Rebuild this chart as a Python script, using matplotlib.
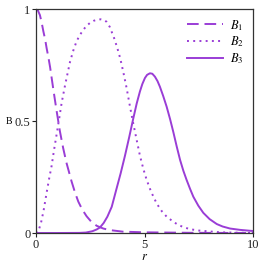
import matplotlib
matplotlib.use("Agg")
import matplotlib.pyplot as plt

plt.rcParams['font.family'] = ['Liberation Serif', 'DejaVu Serif']
plt.rcParams['mathtext.fontset'] = 'stix'

# values
r1 = [0, 0.08, 0.18, 0.26, 0.34, 0.42, 0.49, 0.57, 0.65, 0.8, 0.95, 1.1, 1.25, 1.4,
      1.64, 1.8, 1.95, 2.13, 2.33, 2.55, 2.8, 3.1, 3.4, 4, 5, 6, 7, 8, 9, 10]
b1 = [1, 0.995, 0.973, 0.94, 0.90, 0.865, 0.825, 0.785, 0.74, 0.64, 0.545, 0.455,
      0.38, 0.315, 0.23, 0.18, 0.14, 0.105, 0.075, 0.05, 0.032, 0.02, 0.013, 0.006,
      0.003, 0.002, 0.001, 0.0005, 0.0003, 0.0002]

r2 = [0, 0.1, 0.23, 0.35, 0.49, 0.6, 0.72, 0.83, 0.95, 1.07, 1.18, 1.34, 1.57, 1.72,
      1.87, 2.03, 2.18, 2.33, 2.49, 2.65, 2.8, 2.98, 3.15, 3.25, 3.4, 3.6, 3.75, 3.88,
      4.02, 4.18, 4.33, 4.48, 4.64, 4.79, 4.95, 5.1, 5.3, 5.56, 5.8, 6.02, 6.33, 6.56,
      6.8, 7.1, 7.5, 7.87, 8.5, 10]
b2 = [0, 0.005, 0.045, 0.1, 0.18, 0.24, 0.30, 0.37, 0.44, 0.512, 0.58, 0.66, 0.765,
      0.815, 0.856, 0.885, 0.907, 0.925, 0.938, 0.947, 0.952, 0.954, 0.95, 0.943, 0.92,
      0.87, 0.825, 0.78, 0.72, 0.645, 0.565, 0.49, 0.415, 0.345, 0.285, 0.237, 0.185,
      0.132, 0.097, 0.073, 0.05, 0.036, 0.026, 0.017, 0.011, 0.008, 0.003, 0]

r3 = [0, 1, 2, 2.3, 2.6, 2.8, 2.95, 3.12, 3.29, 3.49, 3.69, 3.9, 4.1, 4.3, 4.48, 4.64,
      4.79, 4.9, 5.02, 5.12, 5.25, 5.36, 5.48, 5.6, 5.71, 5.86, 6.02, 6.18, 6.33, 6.48,
      6.64, 6.79, 6.94, 7.1, 7.25, 7.48, 7.71, 8.0, 8.33, 8.6, 8.94, 9.4, 9.86, 10]
b3 = [0, 0, 0.0005, 0.002, 0.008, 0.016, 0.025, 0.045, 0.073, 0.117, 0.19, 0.266,
      0.345, 0.43, 0.51, 0.578, 0.632, 0.665, 0.692, 0.706, 0.713, 0.711, 0.698, 0.678,
      0.653, 0.612, 0.564, 0.508, 0.45, 0.388, 0.326, 0.278, 0.237, 0.197, 0.162,
      0.122, 0.09, 0.062, 0.04, 0.029, 0.02, 0.014, 0.01, 0.009]

col = '#9a3dd6'

fig = plt.figure(figsize=(2.62, 2.62), dpi=100)
ax = fig.add_axes([36/262, 29/262, 217/262, 224/262])

ax.plot(r1, b1, color=col, lw=1.4, dashes=(6, 3), label='$B_1$')
ax.plot(r2, b2, color=col, lw=1.4, ls=(0, (1, 2.2)), label='$B_2$')
ax.plot(r3, b3, color=col, lw=1.4, label='$B_3$')

ax.set_xlim(0, 10)
ax.set_ylim(0, 1)
ax.set_xticks([0, 5, 10])
ax.set_yticks([0, 0.5, 1])
ax.set_yticklabels(['0', '0.5', '1'])
ax.tick_params(labelsize=9, length=3, width=0.8, pad=1, colors='#222222')
for s in ax.spines.values():
    s.set_color('#333333')
    s.set_linewidth(0.9)

ax.set_xlabel('$r$', fontsize=9, labelpad=0)
ax.set_ylabel('B', fontsize=7, rotation=0, labelpad=4, va='center')

ax.legend(loc='upper right', frameon=False, fontsize=9, handlelength=2.9,
          labelspacing=0.15, handletextpad=0.6, borderaxespad=0.3)

fig.savefig('out.png', dpi=100)
